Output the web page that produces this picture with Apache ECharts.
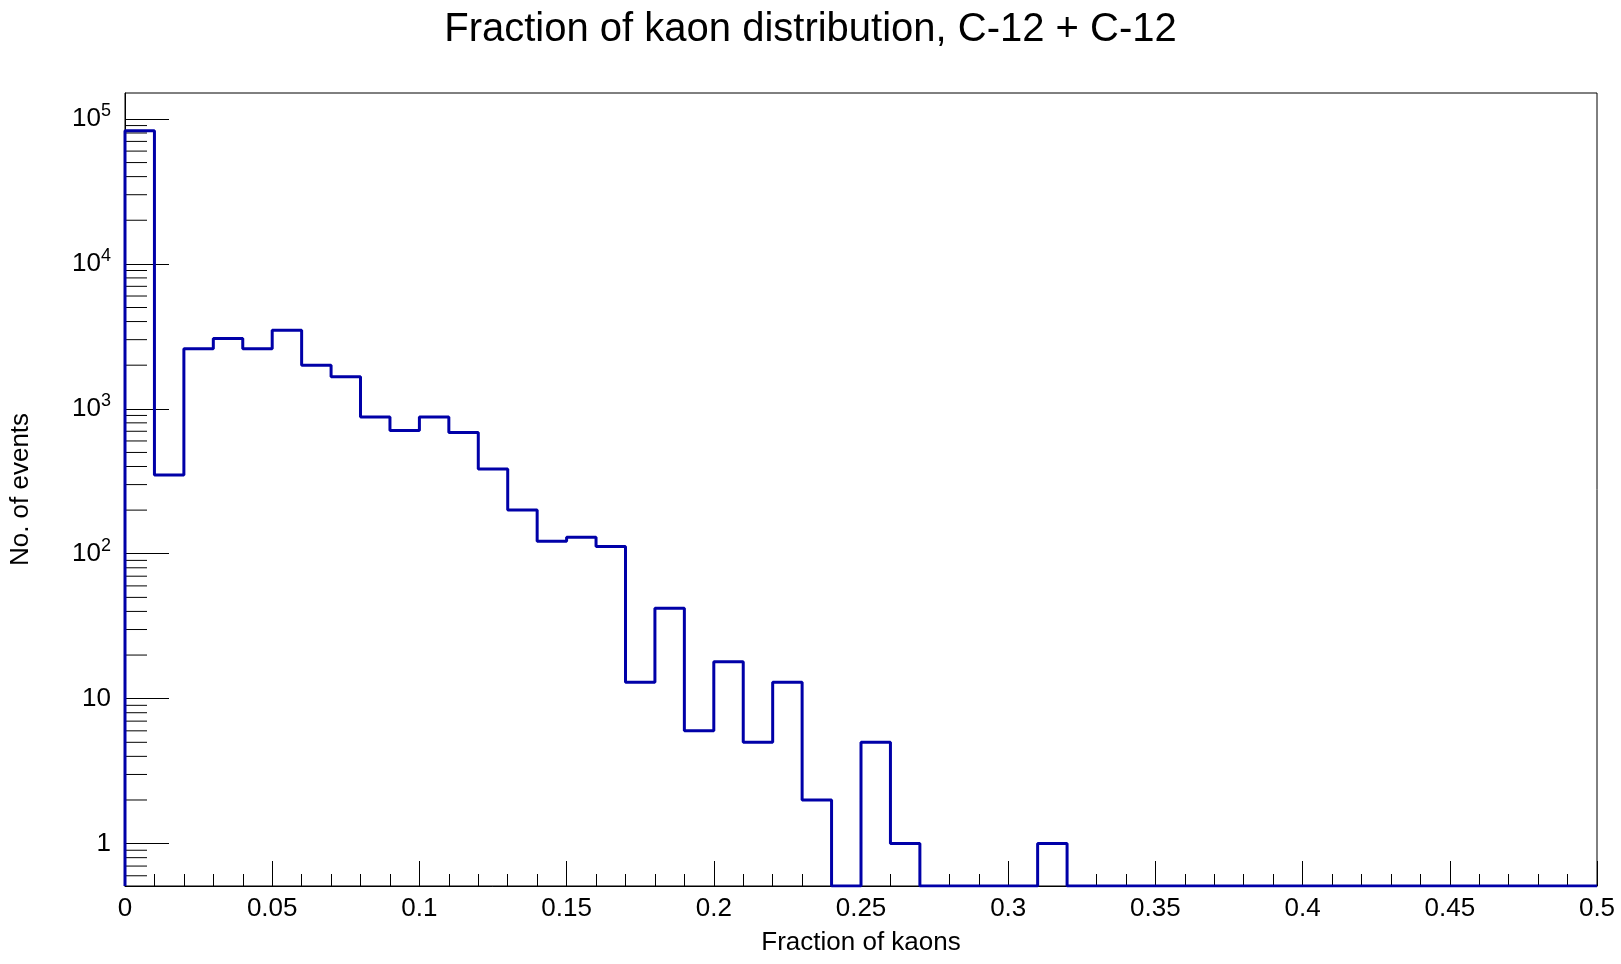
<!DOCTYPE html>
<html>
<head>
<meta charset="utf-8">
<script src="https://cdn.jsdelivr.net/npm/echarts@6/dist/echarts.min.js"></script>
<style>
  html, body { margin: 0; padding: 0; background: #fff; }
  #chart { width: 1621px; height: 964px; }
</style>
</head>
<body>
<div id="chart"></div>
<script>
// bin edges: 50 bins of width 0.01 from 0 to 0.5
var binWidth = 0.01;
var binCounts = [83000, 349, 2600, 3060, 2600, 3490, 1995, 1665, 877, 708,
  877, 685, 385, 200, 122, 130, 112, 13, 42, 6,
  18, 5, 13, 2, 0, 5, 1, 0, 0, 0,
  0, 1, 0, 0, 0, 0, 0, 0, 0, 0,
  0, 0, 0, 0, 0, 0, 0, 0, 0, 0];
var yMin = 0.51, yMax = 151000;

// histogram outline as step points
var stepData = [[0, yMin]];
binCounts.forEach(function (c, i) {
  stepData.push([+(i * binWidth).toFixed(2), c > 0 ? c : yMin]);
});
stepData.push([0.5, binCounts[binCounts.length - 1] > 0 ? binCounts[binCounts.length - 1] : yMin]);

// minor tick positions on log axis
var minorY = [];
for (var k = -1; k <= 5; k++) {
  for (var m = 2; m <= 9; m++) {
    var v = m * Math.pow(10, k);
    if (v > yMin && v < yMax) minorY.push(v);
  }
}

var myChart = echarts.init(document.getElementById('chart'));
var options = {
  animation: false,
  title: {
    text: 'Fraction of kaon distribution, C-12 + C-12',
    left: 'center', top: 5,
    textStyle: { fontFamily: 'Liberation Sans', fontSize: 40, fontWeight: 'normal', color: '#000' }
  },
  grid: { left: 121, right: 24, top: 93, bottom: 78, show: true, borderColor: '#000', borderWidth: 1 },
  xAxis: {
    type: 'value', min: 0, max: 0.5, interval: 0.05,
    name: 'Fraction of kaons', nameLocation: 'middle', nameGap: 44,
    nameTextStyle: { fontFamily: 'Liberation Sans', fontSize: 26, color: '#000' },
    axisLine: { lineStyle: { color: '#000' } },
    axisTick: { inside: true, length: 25, lineStyle: { color: '#000' } },
    minorTick: { show: true, splitNumber: 5, length: 12, lineStyle: { color: '#000' } },
    splitLine: { show: false },
    axisLabel: {
      fontFamily: 'Liberation Sans', fontSize: 26, color: '#000', margin: 10,
      formatter: function (v) { return String(+v.toFixed(2)); }
    }
  },
  yAxis: {
    type: 'log', logBase: 10, min: yMin, max: yMax,
    name: 'No. of events', nameLocation: 'middle', nameGap: 91,
    nameTextStyle: { fontFamily: 'Liberation Sans', fontSize: 26, color: '#000' },
    axisLine: { lineStyle: { color: '#000' } },
    axisTick: { inside: true, length: 44, lineStyle: { color: '#000' } },
    splitLine: { show: false },
    axisLabel: {
      fontFamily: 'Liberation Sans', fontSize: 26, color: '#000', margin: 14,
      showMinLabel: false, showMaxLabel: false,
      formatter: function (v) {
        var p = Math.round(Math.log10(v));
        if (Math.abs(Math.log10(v) - p) > 1e-6) return '';
        if (p === 0) return '1';
        if (p === 1) return '10';
        return '10{s|' + p + '}';
      },
      rich: { s: { fontFamily: 'Liberation Sans', fontSize: 18, color: '#000', verticalAlign: 'top', padding: [0, 0, 16, 0] } }
    }
  },
  series: [
    {
      type: 'line', step: 'end', data: stepData, symbol: 'none',
      lineStyle: { color: '#0000a8', width: 3 }, z: 3
    },
    {
      type: 'custom', silent: true, data: minorY.map(function (v) { return [0, v]; }),
      renderItem: function (params, api) {
        var p = api.coord([0, api.value(1)]);
        return { type: 'line', shape: { x1: p[0], y1: p[1], x2: p[0] + 22, y2: p[1] }, style: { stroke: '#000', lineWidth: 1 } };
      },
      z: 2
    }
  ]
};
myChart.setOption(options, true);
</script>
</body>
</html>
